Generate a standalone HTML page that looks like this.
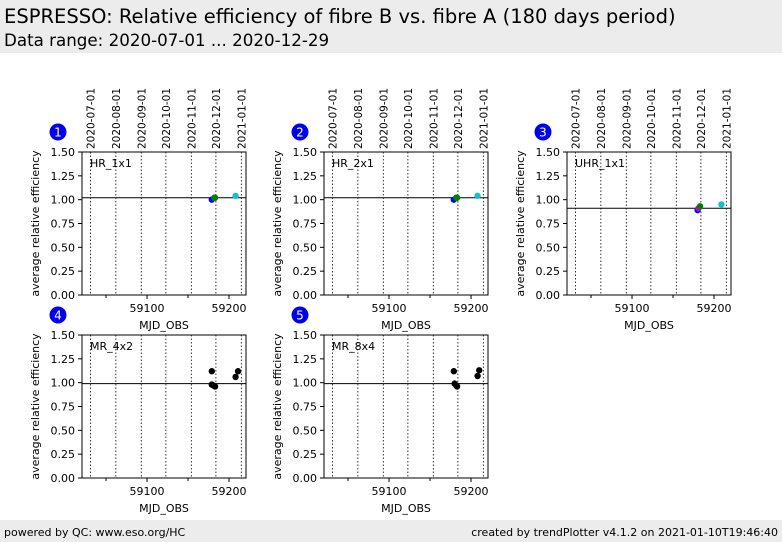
<!DOCTYPE html>
<html><head><meta charset="utf-8">
<style>
body{margin:0;width:782px;height:542px;background:#fff;font-family:"DejaVu Sans","Liberation Sans",sans-serif;overflow:hidden;position:relative}
#hdr{position:absolute;left:0;top:0;width:782px;height:53px;background:#ececec}
#t1{position:absolute;left:4px;top:5px;font-size:19.5px}
#t2{position:absolute;left:4px;top:30px;font-size:16.7px}
#ftr{position:absolute;left:0;top:520px;width:782px;height:22px;background:#ececec;font-size:11px}
#f1{position:absolute;left:4px;top:6px}
#f2{position:absolute;right:4px;top:6px}
svg{position:absolute;left:0;top:0}
</style></head><body>
<div id="hdr">
<div id="t1">ESPRESSO: Relative efficiency of fibre B vs. fibre A (180 days period)</div>
<div id="t2">Data range: 2020-07-01 ... 2020-12-29</div>
</div>
<div id="ftr">
<span id="f1">powered by QC: www.eso.org/HC</span>
<span id="f2">created by trendPlotter v4.1.2 on 2021-01-10T19:46:40</span>
</div>
<svg id="chart" width="782" height="542"></svg>
<script>
const panelNames=["HR_1x1","HR_2x1","UHR_1x1","MR_4x2","MR_8x4"];
const refLines=[1.02,1.02,0.91,0.99,0.99];
const mjd1=[59179,59182,59183,59208];
const val1=[1.00,1.02,1.02,1.04];
const col1=["#0000ff","#008000","#008000","#17becf"];
const mjd2=[59179,59182,59183,59208];
const val2=[1.00,1.02,1.02,1.04];
const col2=["#0000ff","#008000","#008000","#17becf"];
const mjd3=[59180,59181,59183,59209];
const val3=[0.89,0.91,0.93,0.95];
const col3=["#0000ff","#cc00cc","#008000","#17becf"];
const mjd4=[59179,59179,59181,59183,59208,59211];
const val4=[1.12,0.98,0.97,0.96,1.06,1.12];
const mjd5=[59179,59180,59182,59183,59208,59210];
const val5=[1.12,0.99,0.97,0.96,1.07,1.13];
const col45=["#000","#000","#000","#000","#000","#000"];
const dateLabels=["2020-07-01","2020-08-01","2020-09-01","2020-10-01","2020-11-01","2020-12-01","2021-01-01"];
const dateMjd=[59031,59062,59093,59123,59154,59184,59215];
const yTicks=[0,0.25,0.5,0.75,1.0,1.25,1.5];
const xTicks=[59100,59200];
const xMinor=[59050,59150];
const series=[[mjd1,val1,col1],[mjd2,val2,col2],[mjd3,val3,col3],[mjd4,val4,col45],[mjd5,val5,col45]];
const pos=[[82,152],[324,152],[567,152],[82,335],[324,335]];
const W=164,H=143,X0=59020.7,X1=59220.7,Y0=0,Y1=1.5;
const svg=document.getElementById('chart');
const NS="http://www.w3.org/2000/svg";
function mk(tag,attrs,parent){const e=document.createElementNS(NS,tag);for(const k in attrs)e.setAttribute(k,attrs[k]);(parent||svg).appendChild(e);return e;}
function txt(s,attrs,parent){const e=mk('text',attrs,parent);e.textContent=s;return e;}
panelNames.forEach((nm,i)=>{
  const [px,py]=pos[i];
  const sx=m=>px+(m-X0)/(X1-X0)*W;
  const sy=v=>py+H-(v-Y0)/(Y1-Y0)*H;
  const g=mk('g',{});
  
  
  dateMjd.forEach((d,j)=>{
    const x=sx(d);
    mk('line',{x1:x,x2:x,y1:py,y2:py+H,stroke:'#000','stroke-width':0.8,'stroke-dasharray':'1.5,2'},g);
    if(i<3){const t=txt(dateLabels[j],{x:x+4,y:py-3,'font-size':10.5,transform:`rotate(-90 ${x+4} ${py-3})`},g);
      }
  });
  mk('rect',{x:px,y:py,width:W,height:H,fill:'none',stroke:'#000','stroke-width':1},g);
  yTicks.forEach(v=>{const y=sy(v);mk('line',{x1:px-4,x2:px,y1:y,y2:y,stroke:'#000'},g);
    const t=txt(v.toFixed(2),{x:px-7,y:y+4,'font-size':11,'text-anchor':'end'},g);
    });
  xTicks.forEach(m=>{const x=sx(m);mk('line',{x1:x,x2:x,y1:py+H,y2:py+H+4,stroke:'#000'},g);
    const t=txt(String(m),{x:x,y:py+H+17,'font-size':11,'text-anchor':'middle'},g);
    });
  xMinor.forEach(m=>{const x=sx(m);mk('line',{x1:x,x2:x,y1:py+H,y2:py+H+3,stroke:'#000'},g);});
  const xl=txt('MJD_OBS',{x:px+W/2,y:py+H+34,'font-size':11,'text-anchor':'middle'},g);
  
  const yl=txt('average relative efficiency',{x:px-43,y:py+H/2,'font-size':11,'text-anchor':'middle',transform:`rotate(-90 ${px-43} ${py+H/2})`},g);
  
  const lb=txt(nm,{x:px+8,y:py+15,'font-size':11},g);
  
  const ry=sy(refLines[i]);
  const rl=mk('line',{x1:px,x2:px+W,y1:ry,y2:ry,stroke:'#000','stroke-width':1},g);
  
  const [ms,vs,cs]=series[i];
  ms.forEach((m,k)=>{const c=mk('circle',{cx:sx(m),cy:sy(vs[k]),r:3.2,fill:cs[k]},g);
    });
  const bx=px-24,by=py-20;
  const bc=mk('circle',{cx:bx,cy:by,r:8.5,fill:'#0000ee'},g);
  
  txt(String(i+1),{x:bx,y:by+4.5,'font-size':12,fill:'#fff','text-anchor':'middle'},g);
});
</script>
</body></html>
